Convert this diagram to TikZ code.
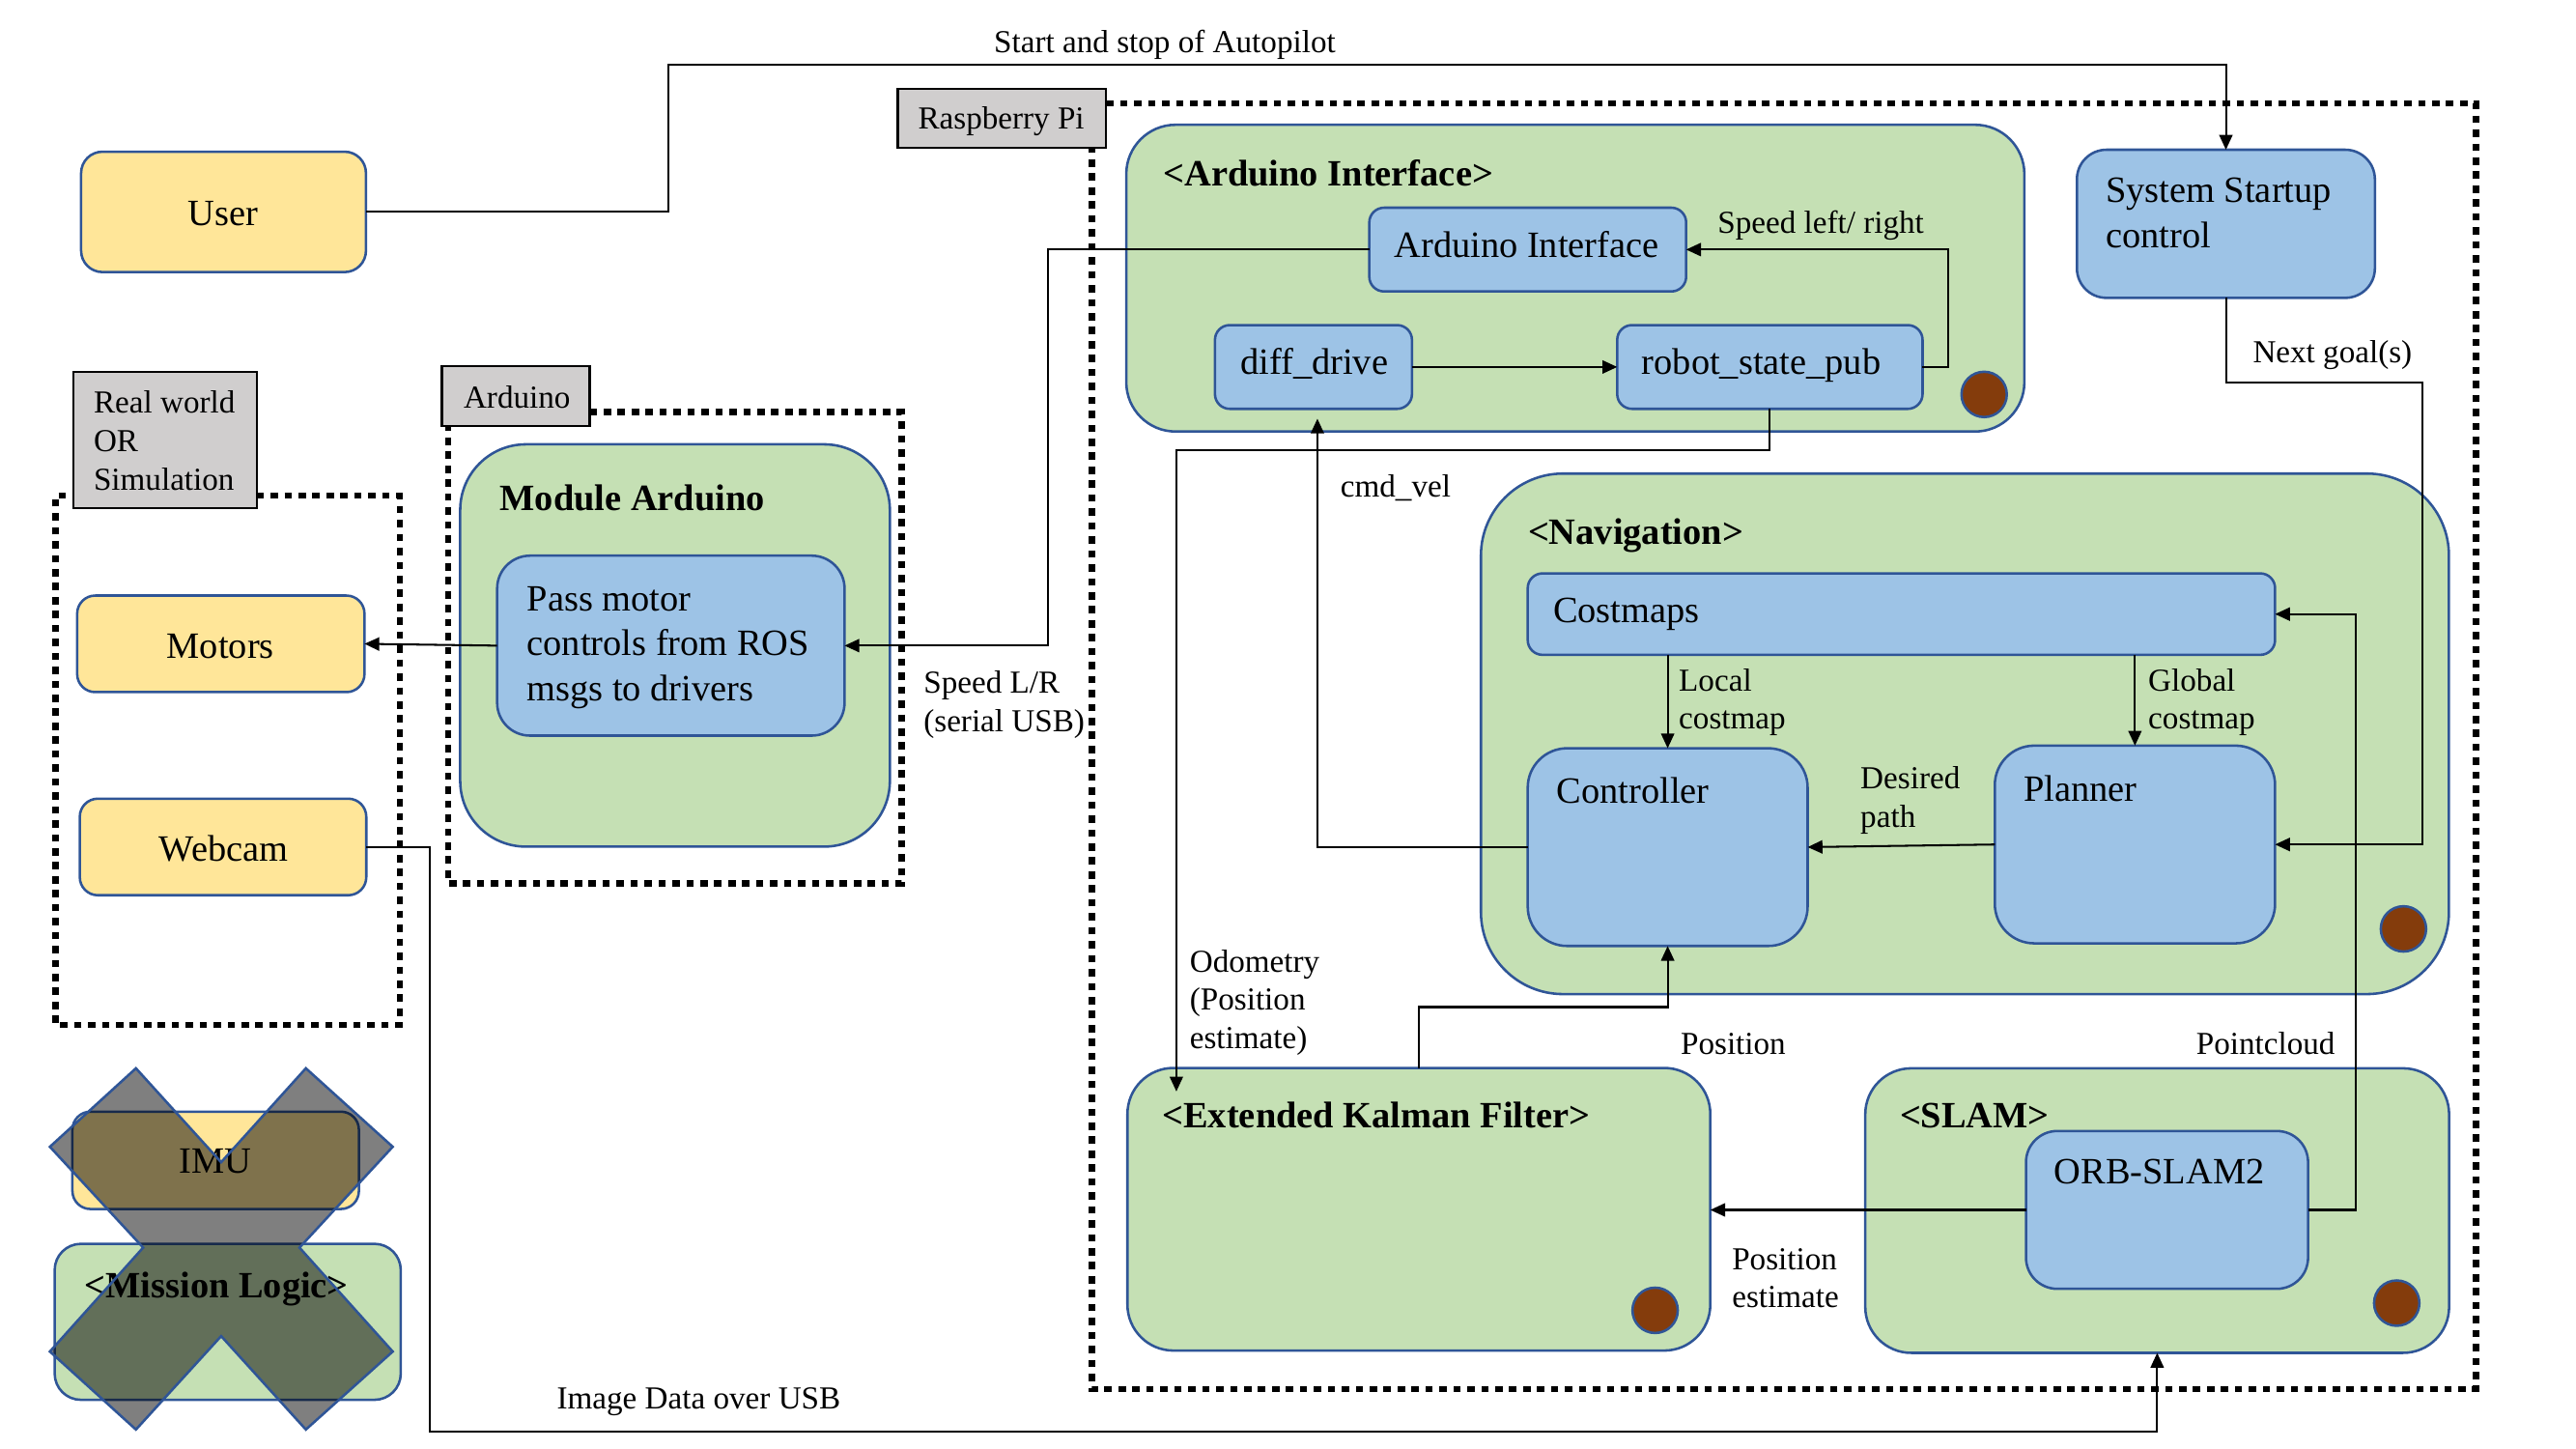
\documentclass[tikz,border=0pt]{standalone}
\usepackage{fontspec}
\setmainfont{Liberation Serif}
\usetikzlibrary{arrows.meta}
\definecolor{bordblue}{HTML}{2F5597}
\definecolor{yel}{HTML}{FFE699}
\definecolor{grn}{HTML}{C5E0B4}
\definecolor{lblue}{HTML}{9DC3E6}
\definecolor{lgray}{HTML}{D0CECE}
\definecolor{dotbrown}{HTML}{843C0C}
\newcommand\nodefnt{\fontsize{22.6}{27.4}\selectfont}
\newcommand\lblfnt{\fontsize{19.5}{23.5}\selectfont}
\newcommand\myboxnode[6]{\node[#1, minimum width={(#5-#3)*1pt}, minimum height={(#6-#4)*1pt}] (#2) at ({(#3+#5)/2},{(#4+#6)/2}) {};}
\tikzset{
  box/.style={draw=bordblue, line width=1.5pt, inner sep=0pt, outer sep=0pt},
  ybox/.style={box, fill=yel},
  gbox/.style={box, fill=grn},
  bbox/.style={box, fill=lblue},
  glbl/.style={draw=black, line width=1.3pt, fill=lgray, inner sep=0pt, outer sep=0pt},
  endcirc/.style={circle, draw=bordblue, line width=1.5pt, fill=dotbrown, minimum size=27.6pt, inner sep=0pt},
  conn/.style={line width=1.2pt, black},
  arr/.style={conn, -{Triangle[length=9pt,width=8pt]}},
  dotb/.style={line width=3.8pt, dash pattern=on 4.5pt off 4pt, black},
  lbl/.style={font=\lblfnt, inner sep=0pt, anchor=base west},
  ntxt/.style={font=\nodefnt, inner sep=0pt, anchor=base west},
  ctxt/.style={font=\nodefnt, inner sep=0pt, anchor=base},
  ttl/.style={font=\nodefnt\bfseries, inner sep=0pt, anchor=base west},
  xmark/.style={draw=bordblue, line width=1.5pt, fill=black, fill opacity=0.5},
}
\begin{document}
\begin{tikzpicture}[x=1pt, y=-1pt]
\useasboundingbox (0,0) rectangle (1569,882.4);
\fill[white] (0,0) rectangle (1569,882.4);

% dotted frames
\draw[dotb] (673.8,63.1) -- (1508,63.1) -- (1508,846.1) -- (665.2,846.1) -- (665.2,90.2);
\draw[dotb] (359.2,251) -- (549.1,251) -- (549.1,538) -- (273,538) -- (273,259.4);
\draw[dotb] (156.3,301.9) -- (243.6,301.9) -- (243.6,624.1) -- (33.7,624.1) -- (33.7,301.9) -- (44.7,301.9);

% gray labels
\myboxnode{glbl}{rpi}{546.8}{54.3}{673.8}{90.2}
\myboxnode{glbl}{ardlbl}{269.1}{223.1}{359.2}{259.4}
\myboxnode{glbl}{rwlbl}{44.7}{226.3}{156.3}{309.5}

% green groups
\myboxnode{gbox, rounded corners=30pt}{ardgrp}{686}{76}{1233}{262.8}
\myboxnode{gbox, rounded corners=50pt}{navgrp}{902}{288.4}{1491.6}{605.4}
\myboxnode{gbox, rounded corners=28pt}{ekfgrp}{686.7}{650.4}{1041.7}{822.5}
\myboxnode{gbox, rounded corners=28pt}{slamgrp}{1136.1}{650.6}{1491.7}{823.9}
\myboxnode{gbox, rounded corners=40pt}{modgrp}{280.3}{270.6}{542}{515.6}
\myboxnode{gbox, rounded corners=16pt}{missgrp}{33.3}{757.5}{244.1}{852.5}

% yellow boxes
\myboxnode{ybox, rounded corners=13pt}{user}{49.4}{92.4}{222.9}{165.7}
\myboxnode{ybox, rounded corners=11pt}{motors}{47}{362.7}{222}{421.5}
\myboxnode{ybox, rounded corners=11pt}{webcam}{48.6}{486.4}{223.1}{545.2}
\myboxnode{ybox, rounded corners=11pt}{imu}{44.1}{677}{218.6}{736.3}

% blue boxes
\myboxnode{bbox, rounded corners=9pt}{aint}{834}{126.5}{1027}{177.5}
\myboxnode{bbox, rounded corners=9pt}{diffd}{740}{198}{860}{249}
\myboxnode{bbox, rounded corners=9pt}{rsp}{985}{198}{1171}{249}
\myboxnode{bbox, rounded corners=18pt}{sysst}{1265}{91.2}{1446.5}{181.4}
\myboxnode{bbox, rounded corners=9pt}{costm}{930.5}{349.2}{1385.7}{398.8}
\myboxnode{bbox, rounded corners=24pt}{ctrl}{930.5}{455.7}{1101}{576.1}
\myboxnode{bbox, rounded corners=24pt}{plan}{1215}{454.1}{1385.7}{574.5}
\myboxnode{bbox, rounded corners=19pt}{orb}{1234}{688.8}{1405.8}{784.9}
\myboxnode{bbox, rounded corners=20pt}{pass}{302.8}{338.4}{514.4}{448}

% end circles
\node[endcirc] (c1) at (1208.5,240.2) {};
\node[endcirc] (c2) at (1463.9,565.7) {};
\node[endcirc] (c3) at (1008.1,798) {};
\node[endcirc] (c4) at (1459.8,793.6) {};

% connector helper coordinates
\coordinate (sbend) at (638.3,393.2);
\coordinate (odobend) at (716.5,274);
\coordinate (odoend) at (716.5,664.7);
\coordinate (cmdend) at (802.4,255);
\coordinate (posbend) at (1015.75,613.3);
\coordinate (pcbend) at (1434.7,374);

% connectors
\draw[arr] (user.east) -| (407.3,39.2) -| (sysst.north);
\draw[arr] (aint.west) -| (sbend) -- (pass.east);
\draw[arr] (pass.west) -- (motors.east);
\draw[arr] (diffd.east) -- (rsp.west);
\draw[arr] (rsp.east) -| (1186.5,152) -- (aint.east);
\draw[arr] (rsp.south) |- (odobend) -- (odoend);
\draw[arr] (sysst.south) |- (1475.5,233) |- (plan.east);
\draw[arr] (ctrl.north |- costm.south) -- (ctrl.north);
\draw[arr] (plan.north |- costm.south) -- (plan.north);
\draw[arr] (plan.west) -- (ctrl.east);
\draw[arr] (ctrl.west) -| (cmdend);
\draw[arr] (ekfgrp.north) |- (posbend) -- (ctrl.south);
\draw[arr] (orb.west) -- (orb.west -| ekfgrp.east);
\draw[arr] (orb.east) -| (pcbend) -- (costm.east);
\draw[arr] (webcam.east) -| (261.8,872) -| (slamgrp.south);

% connector labels
\node[lbl] (l1) at (605.3,31.8) {Start and stop of Autopilot};
\node[lbl] (l2) at (1046,142.2) {Speed left/ right};
\node[lbl] (l3) at (562.4,422) {Speed L/R};
\node[lbl] (l4) at (562.4,445.8) {(serial USB)};
\node[lbl] (l5) at (1372,221.2) {Next goal(s)};
\node[lbl] (l6) at (816.3,302.7) {cmd\_vel};
\node[lbl] (l7) at (724.5,592) {Odometry};
\node[lbl] (l8) at (724.5,615.2) {(Position};
\node[lbl] (l9) at (724.5,638.6) {estimate)};
\node[lbl] (l10) at (1022.4,420.8) {Local};
\node[lbl] (l11) at (1022.4,444) {costmap};
\node[lbl] (l12) at (1308.3,420.8) {Global};
\node[lbl] (l13) at (1308.3,444) {costmap};
\node[lbl] (l14) at (1133,480.5) {Desired};
\node[lbl] (l15) at (1133,504) {path};
\node[lbl] (l16) at (1023.5,642) {Position};
\node[lbl] (l17) at (1337.5,642) {Pointcloud};
\node[lbl] (l18) at (1054.8,773.5) {Position};
\node[lbl] (l19) at (1054.8,796.5) {estimate};
\node[lbl] (l20) at (339,858) {Image Data over USB};

% gray label texts
\node[lbl] (g1) at (559,78.8) {Raspberry Pi};
\node[lbl] (g2) at (282.2,248.6) {Arduino};
\node[lbl] (g3) at (56.9,251.4) {Real world};
\node[lbl] (g4) at (56.9,274.9) {OR};
\node[lbl] (g5) at (56.9,298.6) {Simulation};

% titles
\node[ttl] (h1) at (708.4,113.3) {<Arduino Interface>};
\node[ttl] (h2) at (930.5,331.4) {<Navigation>};
\node[ttl] (h3) at (707.8,686.7) {<Extended Kalman Filter>};
\node[ttl] (h4) at (1157,686.7) {<SLAM>};
\node[ttl] (h5) at (304.3,310.7) {Module Arduino};
\node[ctxt, font=\nodefnt\bfseries] (h6) at (131.9,790.2) {<Mission Logic>};

% node texts
\node[ctxt] (n1) at (136,137.2) {User};
\node[ctxt] (n2) at (134.3,400.8) {Motors};
\node[ctxt] (n3) at (136.3,524.2) {Webcam};
\node[ctxt] (n4) at (131,714.7) {IMU};
\node[ntxt] (n5) at (849,156.9) {Arduino Interface};
\node[ntxt] (n6) at (755.3,227.8) {diff\_drive};
\node[ntxt] (n7) at (999.8,227.8) {robot\_state\_pub};
\node[ntxt] (n8) at (1282.4,123.5) {System Startup};
\node[ntxt] (n9) at (1282.4,151) {control};
\node[ntxt] (n10) at (945.8,379.2) {Costmaps};
\node[ntxt] (n11) at (948,489) {Controller};
\node[ntxt] (n12) at (1232.4,487.7) {Planner};
\node[ntxt] (n13) at (1251,721.2) {ORB-SLAM2};
\node[ntxt] (n14) at (320.8,372) {Pass motor};
\node[ntxt] (n15) at (320.8,398.9) {controls from ROS};
\node[ntxt] (n16) at (320.8,426.7) {msgs to drivers};

% cross mark over IMU and Mission Logic
\draw[xmark] (82.8,650.6) -- (134.7,707.8) -- (186.3,650.6) -- (239.2,698.4)
  -- (182.4,759.8) -- (239.2,823.1) -- (186.3,870.6) -- (134.7,813.7)
  -- (82.8,870.6) -- (30.4,823.1) -- (87.2,759.8) -- (30.4,698.4) -- cycle;
\end{tikzpicture}
\end{document}
